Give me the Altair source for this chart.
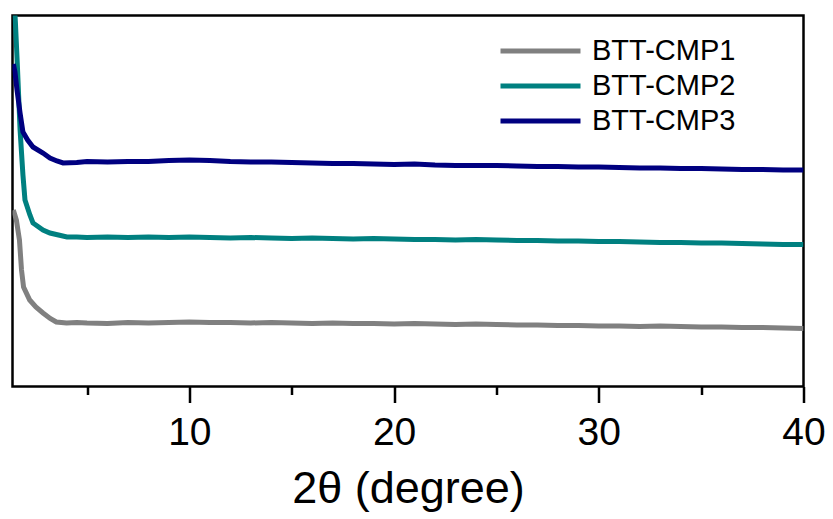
import altair as alt
import pandas as pd

# --- data (x = 2theta in degrees, y = intensity, arbitrary units) ---
names = ["BTT-CMP1", "BTT-CMP2", "BTT-CMP3"]
colors = ["#808080", "#008080", "#000080"]

flat_x = [5, 6, 7, 8, 9, 10, 11, 12, 13, 14, 15, 16, 17, 18, 19, 20, 21, 22, 23, 24,
          25, 26, 27, 28, 29, 30, 31, 32, 33, 34, 35, 36, 37, 38, 39, 40]

cmp1_x = [1.40, 1.55, 1.70, 1.80, 1.90, 2.2, 2.5, 2.85, 3.2, 3.5, 4.0, 4.5] + flat_x
cmp1_y = [176.5, 166.5, 146.5, 116.5, 99.5, 86.5, 79.5, 73.5, 68.0, 64.5, 63.5, 64.0,
          63.5, 63, 64, 63.5, 64, 64.5, 64, 64, 63.5, 64, 63.5, 63, 63.5, 63, 63, 62.5,
          63, 62.5, 62, 62.5, 62, 61.5, 61.5, 61, 61, 60.5, 60.5, 60, 60.5, 60, 59.5,
          59.5, 59, 59, 58.5, 58]

cmp2_x = [1.40, 1.50, 1.60, 1.73, 1.87, 1.97, 2.21, 2.36, 2.85, 3.19, 4.02, 4.5] + flat_x
cmp2_y = [400, 365, 320, 256.5, 211.5, 186.5, 171.5, 163.5, 156.5, 153.5, 149.5, 149.5,
          149, 149.5, 149, 149.5, 149, 149.5, 149, 148.5, 149, 148.5, 148, 148.5, 148,
          147.5, 148, 147.5, 147, 147, 146.5, 147, 146.5, 146, 146, 145.5, 145.5, 145,
          145, 144.5, 144, 144, 143.5, 143.5, 143, 142.5, 142, 142]

cmp3_x = [1.40, 1.48, 1.58, 1.73, 1.87, 2.1, 2.36, 2.85, 3.19, 3.53, 3.83, 4.5] + flat_x
cmp3_y = [322.5, 314.5, 296.5, 273.5, 254.5, 246.5, 239.5, 233.5, 228.5, 225.5, 223.5, 224,
          225, 224.5, 225, 225, 226, 226.5, 226, 225, 224.5, 224.5, 224, 223.5, 223, 223,
          222.5, 222, 222.5, 221.5, 221, 221, 221, 220.5, 220, 220, 219.5, 219.5, 219,
          218.5, 218.5, 218, 218, 217.5, 217, 217, 216.5, 216.5]

major_ticks = [10, 20, 30, 40]
minor_ticks = [5, 15, 25, 35]

rows = []
for name, xs, ys in zip(names, [cmp1_x, cmp2_x, cmp3_x], [cmp1_y, cmp2_y, cmp3_y]):
    for i, (xv, yv) in enumerate(zip(xs, ys)):
        rows.append({"sample": name, "x": xv, "y": yv, "order": i})
df = pd.DataFrame(rows)

FONT = "Liberation Sans"
xscale = alt.Scale(domain=[1.36, 40], nice=False, zero=False)
yscale = alt.Scale(domain=[0, 371], nice=False, zero=False)

lines = alt.Chart(df).mark_line(strokeWidth=5, clip=True).encode(
    x=alt.X("x:Q", scale=xscale,
            axis=alt.Axis(values=major_ticks, title="2θ (degree)", orient="bottom",
                          domain=False, grid=False, tickSize=16, tickWidth=2.5,
                          tickColor="black", labelFont=FONT, labelFontSize=39,
                          labelColor="black", labelPadding=11, labelFlush=False,
                          titleFont=FONT, titleFontSize=45, titleFontWeight="normal",
                          titleColor="black", titlePadding=14)),
    y=alt.Y("y:Q", scale=yscale, axis=None),
    color=alt.Color("sample:N", scale=alt.Scale(domain=names, range=colors),
                    legend=alt.Legend(title=None, orient="none", legendX=511.5, legendY=19,
                                      symbolType="M-2.857,0H2.857", symbolSize=784,
                                      symbolStrokeWidth=5, labelOffset=35, rowPadding=3,
                                      padding=0, labelFont=FONT, labelFontSize=29,
                                      labelColor="black")),
    order="order:Q",
)

minor = alt.Chart(pd.DataFrame({"x": minor_ticks})).mark_point(opacity=0).encode(
    x=alt.X("x:Q", scale=xscale,
            axis=alt.Axis(values=minor_ticks, title=None, orient="bottom", labels=False,
                          domain=False, grid=False, tickSize=8, tickWidth=2.5,
                          tickColor="black")),
)

chart = alt.layer(lines, minor).resolve_axis(x="independent").properties(
    width=791, height=371,
    autosize=alt.AutoSizeParams(type="none"),
    padding={"left": 4.5, "top": 7.5, "right": 21, "bottom": 130},
).configure_view(stroke="black", strokeWidth=2.5)

chart.save("out.html", embed_options={"renderer": "svg", "actions": False})
